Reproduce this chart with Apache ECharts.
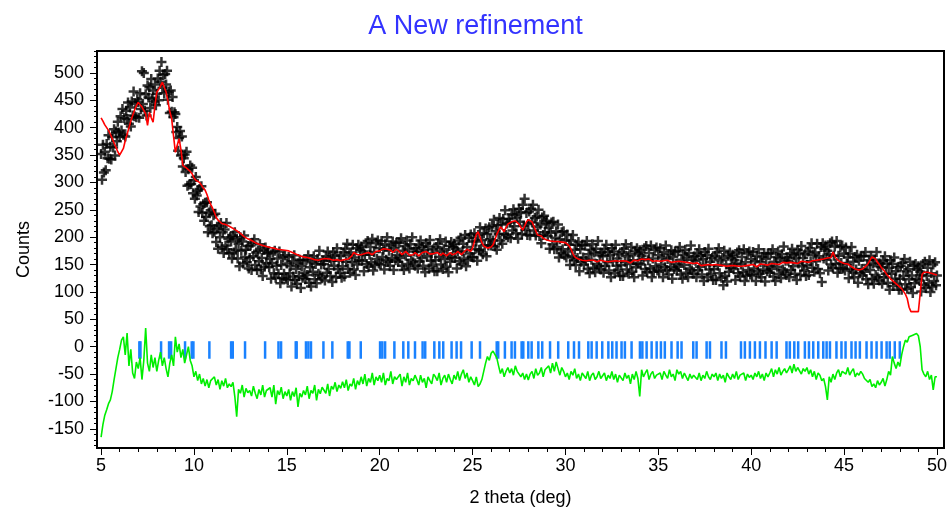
<!DOCTYPE html>
<html>
<head>
<meta charset="utf-8">
<script src="https://cdn.jsdelivr.net/npm/echarts@6/dist/echarts.min.js"></script>
<style>
html, body { margin: 0; padding: 0; background: #fff; }
#main { width: 951px; height: 514px; }
</style>
</head>
<body>
<div id="main"></div>
<script>
// 2 theta grids of the scan
var twoThetaStart = 5;
var obsStep = 0.05;
var calcStep = 0.1;

// observed counts (black +), one row per degree, 0.05 deg step
var obsCounts = [
    352, 305, 369, 318, 356, 322, 370, 344, 386, 343, 365, 342, 383, 364, 397, 349, 393, 375, 411, 391,
    383, 421, 395, 434, 387, 417, 384, 431, 416, 446, 407, 437, 402, 448, 422, 466, 421, 443, 419, 452,
    447, 418, 463, 434, 503, 443, 500, 431, 461, 422, 477, 455, 474, 436, 489, 453, 468, 448, 479, 441,
    462, 490, 450, 504, 484, 520, 473, 496, 463, 498, 479, 504, 451, 466, 427, 468, 429, 456, 419, 428,
    425, 392, 401, 358, 381, 394, 349, 384, 329, 344, 351, 319, 356, 294, 324, 296, 331, 297, 327, 280,
    304, 270, 310, 276, 285, 246, 288, 256, 293, 244, 260, 230, 263, 237, 264, 209, 245, 220, 249, 222,
    207, 240, 210, 243, 191, 216, 179, 221, 200, 226, 182, 209, 171, 214, 185, 226, 178, 197, 170, 200,
    192, 161, 203, 172, 209, 177, 196, 161, 188, 147, 200, 175, 192, 152, 203, 164, 177, 154, 184, 143,
    162, 185, 140, 190, 165, 196, 149, 172, 140, 175, 156, 187, 141, 162, 129, 177, 146, 181, 152, 170,
    172, 145, 160, 124, 153, 172, 134, 175, 126, 148, 161, 133, 174, 116, 149, 125, 164, 133, 167, 124,
    152, 122, 164, 134, 147, 110, 156, 128, 167, 122, 142, 115, 152, 129, 159, 107, 147, 126, 158, 135,
    123, 158, 131, 167, 117, 145, 110, 154, 137, 165, 123, 151, 116, 160, 133, 175, 130, 150, 125, 157,
    151, 121, 165, 135, 174, 142, 162, 129, 157, 118, 172, 148, 167, 127, 180, 142, 157, 135, 166, 126,
    147, 172, 128, 179, 155, 188, 142, 167, 135, 172, 154, 186, 141, 163, 131, 180, 150, 186, 158, 177,
    183, 157, 174, 138, 168, 189, 151, 193, 146, 168, 182, 154, 197, 139, 173, 149, 189, 160, 194, 152,
    180, 150, 193, 164, 177, 141, 187, 159, 200, 155, 175, 148, 185, 162, 192, 140, 180, 158, 190, 167,
    155, 190, 162, 198, 148, 175, 140, 184, 166, 194, 151, 179, 143, 187, 159, 200, 154, 174, 148, 180,
    173, 143, 186, 156, 194, 162, 182, 148, 176, 136, 189, 165, 183, 143, 195, 157, 170, 148, 178, 138,
    158, 182, 138, 188, 164, 196, 150, 174, 142, 178, 160, 192, 146, 168, 136, 184, 155, 191, 164, 182,
    188, 162, 179, 143, 174, 194, 156, 199, 151, 174, 188, 161, 204, 147, 182, 158, 199, 170, 205, 164,
    192, 163, 207, 178, 192, 157, 204, 177, 218, 174, 195, 169, 207, 185, 216, 165, 206, 185, 218, 196,
    185, 221, 194, 232, 183, 211, 177, 222, 206, 235, 194, 223, 188, 233, 206, 249, 204, 225, 200, 233,
    227, 198, 242, 212, 251, 220, 241, 207, 236, 197, 252, 228, 246, 206, 259, 221, 270, 213, 244, 204,
    224, 247, 203, 252, 227, 259, 212, 235, 203, 238, 219, 250, 202, 223, 189, 236, 204, 239, 209, 226,
    230, 202, 217, 179, 208, 227, 187, 228, 178, 199, 211, 182, 223, 163, 196, 171, 209, 178, 211, 167,
    194, 163, 205, 174, 186, 149, 194, 165, 204, 158, 177, 149, 186, 162, 191, 138, 178, 155, 186, 163,
    150, 185, 157, 193, 142, 169, 134, 177, 159, 187, 144, 172, 136, 179, 151, 193, 147, 167, 141, 172,
    165, 135, 178, 148, 186, 154, 173, 139, 167, 127, 180, 156, 174, 134, 186, 148, 161, 139, 169, 129,
    149, 173, 129, 179, 155, 187, 141, 165, 133, 169, 151, 182, 137, 158, 127, 174, 145, 180, 152, 170,
    176, 150, 166, 130, 160, 180, 142, 184, 136, 158, 171, 143, 185, 127, 161, 137, 177, 147, 181, 139,
    167, 137, 180, 150, 163, 127, 173, 145, 185, 140, 160, 132, 169, 146, 176, 124, 164, 142, 174, 151,
    139, 174, 146, 182, 132, 159, 124, 168, 149, 177, 135, 163, 127, 171, 143, 185, 139, 159, 133, 165,
    157, 127, 170, 140, 178, 146, 166, 132, 160, 120, 173, 149, 167, 127, 179, 141, 155, 132, 162, 122,
    142, 166, 122, 172, 148, 180, 134, 158, 126, 162, 112, 175, 129, 150, 119, 166, 137, 172, 144, 162,
    168, 142, 158, 122, 152, 172, 134, 176, 128, 150, 164, 136, 178, 120, 154, 130, 170, 140, 174, 132,
    160, 130, 173, 143, 156, 120, 166, 138, 178, 133, 154, 127, 164, 141, 171, 119, 160, 138, 170, 147,
    135, 170, 142, 178, 128, 155, 120, 164, 146, 174, 133, 161, 125, 169, 141, 183, 137, 157, 131, 163,
    157, 127, 170, 140, 179, 147, 167, 133, 162, 122, 176, 152, 171, 131, 184, 147, 162, 139, 169, 129,
    149, 174, 131, 180, 156, 189, 144, 168, 137, 172, 156, 188, 142, 165, 134, 182, 118, 189, 161, 179,
    185, 159, 175, 139, 169, 189, 150, 192, 144, 166, 183, 151, 193, 135, 166, 143, 182, 153, 185, 143,
    170, 139, 181, 151, 163, 125, 170, 142, 182, 136, 155, 127, 164, 141, 168, 117, 157, 134, 165, 142,
    130, 165, 137, 173, 123, 149, 114, 158, 140, 166, 124, 152, 115, 159, 131, 173, 127, 147, 121, 152,
    145, 115, 157, 127, 165, 133, 152, 117, 144, 104, 158, 133, 151, 111, 163, 124, 138, 115, 145, 104,
    124, 148, 104, 153, 129, 160, 114, 138, 106, 142, 123, 155, 109, 130, 98, 148, 116, 151, 124, 141,
    147, 121, 137, 101, 131, 151, 113, 155, 107, 129, 144, 116, 158, 100, 134, 110, 150, 120, 154, 112,
    130
];

// calculated profile (red), 0.1 deg step
var calcCounts = [
    418, 412, 405, 400, 395, 388, 380, 372, 364, 356,
    350, 348, 362, 376, 388, 400, 412, 422, 432, 440,
    446, 442, 438, 435, 425, 404, 428, 418, 410, 440,
    465, 470, 476, 483, 480, 465, 448, 430, 416, 385,
    355, 368, 380, 360, 331, 330, 326, 323, 320, 316,
    308, 304, 307, 300, 295, 290, 286, 278, 268, 260,
    253, 245, 236, 231, 228, 225, 224, 223, 222, 220,
    218, 216, 214, 212, 210, 207, 204, 201, 199, 197,
    195, 194, 192, 190, 189, 187, 186, 185, 184, 183,
    182, 181, 180, 180, 179, 178, 178, 177, 177, 176,
    176, 175, 173, 172, 170, 169, 167, 166, 165, 164,
    164, 163, 162, 161, 160, 159, 158, 158, 159, 160,
    160, 161, 161, 160, 159, 158, 160, 159, 158, 157,
    158, 159, 158, 160, 162, 166, 172, 170, 168, 167,
    168, 169, 170, 171, 172, 170, 168, 171, 174, 176,
    175, 177, 179, 176, 178, 180, 176, 172, 175, 178,
    176, 172, 168, 170, 174, 171, 167, 165, 168, 172,
    170, 166, 168, 172, 170, 174, 173, 169, 166, 170,
    168, 172, 170, 167, 171, 168, 166, 169, 172, 168,
    167, 170, 174, 171, 168, 172, 175, 178, 176, 174,
    180, 192, 205, 210, 200, 190, 184, 182, 180, 182,
    182, 186, 195, 205, 212, 219, 215, 210, 218, 224,
    226, 228, 231, 230, 228, 224, 218, 213, 220, 228,
    232, 234, 228, 220, 212, 204, 206, 202, 198, 196,
    195, 194, 193, 194, 192, 191, 192, 190, 191, 190,
    190, 188, 184, 178, 170, 164, 162, 160, 159, 158,
    158, 157, 159, 158, 156, 158, 157, 155, 157, 158,
    157, 156, 158, 155, 157, 156, 154, 157, 155, 156,
    155, 157, 154, 156, 155, 153, 156, 158, 155, 157,
    158, 160, 161, 159, 157, 160, 158, 156, 159, 157,
    158, 156, 159, 157, 155, 158, 156, 154, 157, 155,
    154, 156, 153, 155, 152, 154, 151, 153, 150, 152,
    151, 153, 150, 148, 151, 149, 152, 150, 147, 149,
    148, 150, 147, 149, 146, 148, 150, 147, 145, 148,
    146, 148, 145, 147, 150, 147, 145, 148, 146, 149,
    147, 150, 148, 146, 149, 151, 148, 150, 152, 149,
    150, 152, 149, 151, 153, 150, 152, 154, 151, 153,
    152, 154, 151, 153, 155, 152, 154, 156, 153, 155,
    155, 154, 156, 157, 155, 158, 157, 159, 158, 160,
    161, 162, 161, 163, 173, 165, 160, 157, 155, 154,
    152, 150, 151, 148, 146, 144, 142, 141, 140, 140,
    142, 145, 148, 152, 158, 164, 167, 160, 154, 150,
    145, 141, 137, 132, 128, 124, 121, 118, 115, 112,
    109, 106, 103, 96, 88, 72, 64, 64, 64, 64,
    64, 64, 132, 136, 137, 136, 135, 134, 133, 132,
    131
];

// difference curve, shifted (green), 0.1 deg step
var diffCounts = [
    -165, -142, -125, -115, -104, -97, -82, -60, -40, -20,
    -5, 12, 18, -15, 25, -35, -5, -48, -58, -28,
    -40, -20, -60, -25, 34, -30, -45, -15, -38, -20,
    -45, -25, -10, -35, -20, -40, -55, -30, -15, -35,
    18, -10, 5, -20, -5, -30, -15, 0, -25, -35,
    -55, -45, -62, -50, -68, -58, -72, -60, -75, -62,
    -65, -55, -70, -60, -78, -62, -72, -58, -75, -68,
    -73, -65, -91, -128, -78, -85, -70, -92, -76, -84,
    -80, -90, -72, -85, -95, -78, -88, -70, -92, -80,
    -82, -75, -92, -70, -105, -80, -88, -74, -95, -82,
    -90, -78, -98, -82, -91, -75, -110, -85, -92, -80,
    -88, -72, -95, -80, -85, -70, -98, -78, -86, -74,
    -73, -85, -68, -90, -72, -78, -65, -82, -70, -76,
    -64, -75, -60, -80, -68, -72, -58, -78, -62, -70,
    -55, -68, -50, -72, -58, -65, -48, -70, -55, -62,
    -52, -65, -48, -70, -58, -62, -45, -68, -55, -60,
    -61, -50, -72, -55, -65, -48, -70, -58, -62, -52,
    -60, -70, -52, -65, -58, -75, -55, -62, -68, -50,
    -55, -62, -48, -70, -58, -52, -65, -50, -60, -68,
    -52, -60, -45, -62, -50, -42, -58, -48, -65, -55,
    -62, -70, -55, -73, -68, -60, -45, -30, -18, -25,
    -12, -8, -6, -20, -35, -49, -40, -55, -45, -38,
    -48, -40, -52, -35, -45, -42, -55, -48, -60, -50,
    -61, -50, -45, -58, -40, -52, -48, -38, -55, -42,
    -42, -35, -48, -30, -45, -28, -40, -52, -38, -45,
    -55, -48, -60, -45, -52, -40, -58, -50, -62, -48,
    -50, -58, -45, -62, -52, -48, -60, -55, -45, -58,
    -55, -48, -62, -52, -58, -45, -60, -50, -65, -52,
    -55, -62, -48, -58, -52, -68, -50, -60, -45, -58,
    -91, -42, -55, -48, -42, -60, -50, -45, -58, -52,
    -55, -48, -60, -45, -52, -58, -42, -55, -50, -62,
    -42, -50, -45, -58, -48, -55, -62, -50, -58, -52,
    -55, -60, -48, -62, -52, -58, -45, -55, -60, -50,
    -55, -48, -62, -50, -58, -52, -65, -48, -55, -60,
    -50, -58, -45, -60, -52, -55, -48, -62, -50, -56,
    -52, -60, -48, -55, -45, -58, -50, -62, -48, -55,
    -48, -40, -55, -42, -50, -38, -52, -45, -40, -48,
    -42, -35, -48, -32, -45, -38, -36, -50, -40, -45,
    -38, -50, -42, -55, -45, -60, -48, -52, -62, -58,
    -73, -97, -55, -65, -50, -60, -48, -42, -55, -45,
    -42, -50, -38, -52, -45, -40, -55, -48, -52, -45,
    -50, -58, -55, -65, -60, -73, -68, -75, -62, -70,
    -65, -58, -72, -60, -45, -52, -18, -30, -40, -28,
    -36, -15, 0, 12, 8, 18, 15, 21, 18, 24,
    20, 0, -42, -50, -55, -45, -60, -52, -79, -55,
    -55
];

// reflection positions (blue ticks)
var reflections = [
    7.06, 7.12, 8.23, 8.66, 8.77, 9.52, 9.88, 9.97, 10.83, 12.0, 12.09, 12.75,
    13.83, 14.55, 14.69, 15.48, 15.53, 16.03, 16.16, 16.30, 16.97, 17.45,
    18.28, 18.37, 18.98, 20.02, 20.14, 20.29, 20.79, 21.27, 21.54, 21.90,
    22.31, 22.45, 22.94, 23.21, 23.42, 23.87, 24.14, 24.38, 24.95, 25.40,
    26.30, 26.38, 26.74, 27.10, 27.28, 27.64, 27.73, 28.0, 28.18, 28.54,
    28.75, 29.17, 29.61, 30.15, 30.46, 30.73, 31.23, 31.41, 31.68, 31.98,
    32.31, 32.52, 32.75, 33.02, 33.20, 33.56, 34.01, 34.14, 34.37, 34.64,
    34.91, 35.14, 35.35, 35.71, 36.04, 36.25, 36.88, 37.06, 37.60, 37.78,
    38.40, 38.64, 39.45, 39.66, 39.93, 40.20, 40.47, 40.77, 41.10, 41.37,
    41.90, 42.08, 42.32, 42.53, 42.89, 43.11, 43.34, 43.61, 43.88, 44.06,
    44.24, 44.59, 44.86, 45.08, 45.40, 45.62, 45.85, 46.21, 46.48, 46.75,
    47.02, 47.29, 47.46, 47.73, 48.0
];

// axis ticks
var xTickLabels = [5, 10, 15, 20, 25, 30, 35, 40, 45, 50];
var xMinorTicks = [5, 6, 7, 8, 9, 10, 11, 12, 13, 14, 15, 16, 17, 18, 19, 20, 21, 22, 23, 24, 25,
    26, 27, 28, 29, 30, 31, 32, 33, 34, 35, 36, 37, 38, 39, 40, 41, 42, 43, 44, 45, 46, 47, 48, 49, 50];
var yTickLabels = [-150, -100, -50, 0, 50, 100, 150, 200, 250, 300, 350, 400, 450, 500];
var yMinorTicks = [-180, -170, -160, -150, -140, -130, -120, -110, -100, -90, -80, -70, -60, -50, -40,
    -30, -20, -10, 0, 10, 20, 30, 40, 50, 60, 70, 80, 90, 100, 110, 120, 130, 140, 150, 160, 170,
    180, 190, 200, 210, 220, 230, 240, 250, 260, 270, 280, 290, 300, 310, 320, 330, 340, 350, 360,
    370, 380, 390, 400, 410, 420, 430, 440, 450, 460, 470, 480, 490, 500, 510, 520, 530, 540];

var tickTop = 10, tickBottom = -22;
var font = 'Liberation Sans, Arial, sans-serif';

function withTheta(arr, step) {
    return arr.map(function (v, i) {
        return [+(twoThetaStart + i * step).toFixed(2), v];
    });
}

var chart = echarts.init(document.getElementById('main'));

var option = {
    animation: false,
    backgroundColor: '#fff',
    title: {
        text: 'A New refinement',
        left: 'center',
        top: 8,
        textStyle: { color: '#3333ff', fontSize: 27, fontWeight: 'normal', fontFamily: font }
    },
    grid: {
        left: 97, right: 7, top: 51, bottom: 66,
        show: true, borderColor: '#000', borderWidth: 2, backgroundColor: '#fff'
    },
    xAxis: [
        {
            type: 'value', min: 4.78, max: 50.38, position: 'bottom',
            name: '2 theta (deg)', nameLocation: 'middle', nameGap: 41,
            nameTextStyle: { fontSize: 18, color: '#000', fontFamily: font },
            axisLine: { show: true, onZero: false, lineStyle: { color: '#000', width: 2 } },
            axisTick: { show: true, customValues: xMinorTicks, length: 4, lineStyle: { color: '#000', width: 1 } },
            axisLabel: { customValues: xTickLabels, fontSize: 18, color: '#000', margin: 9, fontFamily: font },
            splitLine: { show: false }
        },
        {
            type: 'value', min: 4.78, max: 50.38, position: 'bottom', offset: 0,
            axisLine: { show: false, onZero: false },
            axisTick: { show: true, customValues: xTickLabels, length: 7, lineStyle: { color: '#000', width: 1 } },
            axisLabel: { show: false },
            splitLine: { show: false }
        }
    ],
    yAxis: [
        {
            type: 'value', min: -185, max: 540, position: 'left',
            name: 'Counts', nameLocation: 'middle', nameGap: 64, nameRotate: 90,
            nameTextStyle: { fontSize: 18, color: '#000', fontFamily: font },
            axisLine: { show: true, onZero: false, lineStyle: { color: '#000', width: 2 } },
            axisTick: { show: true, customValues: yMinorTicks, length: 3, lineStyle: { color: '#000', width: 1 } },
            axisLabel: { customValues: yTickLabels, fontSize: 18, color: '#000', margin: 13, fontFamily: font },
            splitLine: { show: false }
        },
        {
            type: 'value', min: -185, max: 540, position: 'left', offset: 0,
            axisLine: { show: false, onZero: false },
            axisTick: { show: true, customValues: yTickLabels, length: 7, lineStyle: { color: '#000', width: 1 } },
            axisLabel: { show: false },
            splitLine: { show: false }
        }
    ],
    series: [
        {
            name: 'Observed',
            type: 'scatter',
            data: withTheta(obsCounts, obsStep),
            symbol: 'path://M3.75,0H6.25V3.75H10V6.25H6.25V10H3.75V6.25H0V3.75H3.75Z',
            symbolSize: 10,
            itemStyle: { color: '#000' },
            clip: false,
            z: 2
        },
        {
            name: 'Reflections',
            type: 'custom',
            data: reflections.map(function (r) { return [r, 0]; }),
            renderItem: function (params, api) {
                var p1 = api.coord([api.value(0), tickTop]);
                var p2 = api.coord([api.value(0), tickBottom]);
                return {
                    type: 'line',
                    shape: { x1: p1[0], y1: p1[1], x2: p2[0], y2: p2[1] },
                    style: { stroke: '#1a82ff', lineWidth: 2.5 }
                };
            },
            z: 3
        },
        {
            name: 'Calculated',
            type: 'line',
            data: withTheta(calcCounts, calcStep),
            showSymbol: false,
            lineStyle: { color: '#ff0000', width: 1.6 },
            z: 4
        },
        {
            name: 'Difference',
            type: 'line',
            data: withTheta(diffCounts, calcStep),
            showSymbol: false,
            lineStyle: { color: '#00ee00', width: 1.6 },
            z: 5
        }
    ]
};

chart.setOption(option);
</script>
</body>
</html>
